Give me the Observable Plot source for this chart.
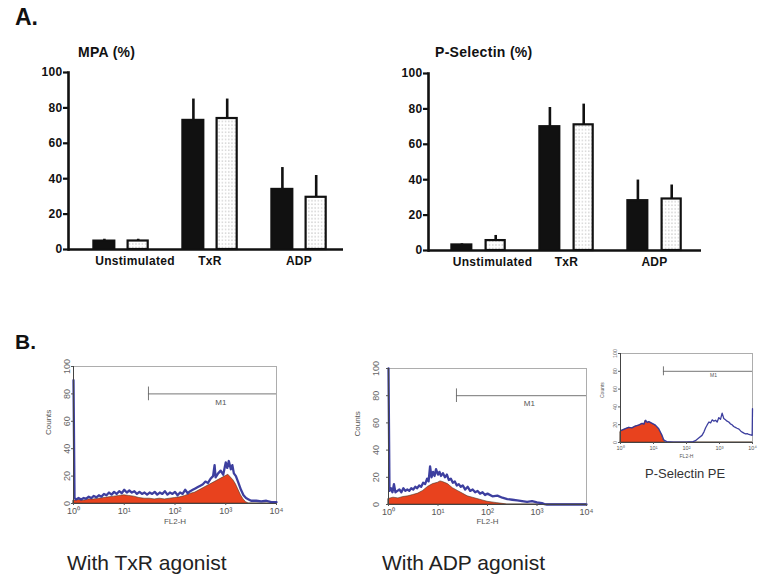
<!DOCTYPE html>
<html>
<head>
<meta charset="utf-8">
<script src="https://cdn.jsdelivr.net/npm/d3@7"></script>
<script src="https://cdn.jsdelivr.net/npm/@observablehq/plot@0.6"></script>
<style>
  html, body { margin: 0; padding: 0; background: #fff; }
  #root { position: relative; width: 766px; height: 584px; overflow: hidden; background: #fff;
          font-family: "Liberation Sans", Arial, sans-serif; }
  .abs { position: absolute; line-height: 1; white-space: nowrap; }
  .panel { position: absolute; }
</style>
</head>
<body>
<svg width="0" height="0" style="position:absolute">
  <defs>
    <pattern id="dots" patternUnits="userSpaceOnUse" width="3.2" height="3.6">
      <rect width="3.2" height="3.6" fill="#fff"></rect>
      <circle cx="1.6" cy="1.8" r="0.5" fill="#777"></circle>
    </pattern>
  </defs>
</svg>
<div id="root">
  <div class="abs" style="left:15px;top:5.5px;font-size:23px;font-weight:bold;color:#111">A.</div>
  <div class="abs" style="left:78px;top:45px;font-size:14px;font-weight:bold;color:#111;letter-spacing:0.3px">MPA (%)</div>
  <div class="abs" style="left:435px;top:45px;font-size:14px;font-weight:bold;color:#111;letter-spacing:0.3px">P-Selectin (%)</div>
  <div class="abs" style="left:15px;top:331px;font-size:21px;font-weight:bold;color:#111">B.</div>
  <div class="abs" style="left:67px;top:552px;font-size:21px;color:#222">With TxR agonist</div>
  <div class="abs" style="left:382px;top:552px;font-size:21px;color:#222">With ADP agonist</div>
  <div class="abs" style="left:645px;top:466.5px;font-size:13px;color:#333">P-Selectin PE</div>
  <div class="panel" id="barL" style="left:0px;top:62px"></div>
  <div class="panel" id="barR" style="left:360px;top:63px"></div>
  <div class="panel" id="h1" style="left:30px;top:355px"></div>
  <div class="panel" id="h2" style="left:345px;top:357px"></div>
  <div class="panel" id="h3" style="left:596px;top:343px"></div>
</div>
<script>
// ---------- Panel A data ----------
const groups = ["Unstimulated", "TxR", "ADP"];
const mpaBlack      = [4.8, 73, 34];
const mpaBlackErr   = [1.0, 12, 12.3];
const mpaDotted     = [4.8, 74, 29.5];
const mpaDottedErr  = [1.0, 11, 12.3];
const pselBlack     = [3.2, 70, 28.2];
const pselBlackErr  = [0.6, 10.8, 11.6];
const pselDotted    = [5.6, 71, 29.1];
const pselDottedErr = [2.9, 11.7, 7.9];
const yTicksA = [0, 20, 40, 60, 80, 100];

// ---------- Panel B data (FL2-H as log10 exponent, Counts) ----------
const txrBlueExp = [0,0.02,0.05,0.1,0.15,0.2,0.25,0.3,0.35,0.4,0.45,0.5,0.55,0.6,0.65,0.7,0.75,0.8,0.85,0.9,0.95,1.0,1.05,1.1,1.15,1.2,1.25,1.3,1.35,1.4,1.45,1.5,1.55,1.6,1.65,1.7,1.75,1.8,1.85,1.9,1.95,2.0,2.05,2.1,2.15,2.2,2.25,2.3,2.35,2.4,2.45,2.5,2.55,2.6,2.65,2.7,2.75,2.78,2.8,2.85,2.9,2.95,3.0,3.03,3.06,3.1,3.13,3.16,3.2,3.25,3.3,3.35,3.4,3.45,3.5,3.6,3.7,3.8,3.9,4.0];
const txrBlueCnt = [90,4,3,4,3,4,3.5,5,4,5.5,4.5,6,5,7,6,8,6.5,8.5,7,9,7.5,10,8,9.5,8,9,7,8.5,7,8,6.5,8,7,8.5,6.5,8,7,9,6.5,8,7,8.5,6,8,7,10,7.5,9,10,11,12,13,14,16,15,18,20,28,19,22,24,21,30,26,31,25,28,22,20,15,10,6,4,3,2,2,1.5,2,1,1];
const txrRedExp = [0,0.1,0.2,0.3,0.4,0.5,0.6,0.7,0.8,0.9,1.0,1.1,1.2,1.3,1.4,1.5,1.6,1.7,1.8,1.9,2.0,2.1,2.2,2.3,2.4,2.5,2.6,2.7,2.8,2.9,3.0,3.05,3.1,3.15,3.2,3.25,3.3,3.35,3.4,3.45,4.0];
const txrRedCnt = [2,2.5,2,3,3,3.5,4,4.5,5,5.5,6,5.5,5,4,3.5,3.5,3,3.5,3,3.5,4,4.5,5.5,7,8,10,12,14,16,18,20,21,19,17,14,10,6,3,1,0,0];

const adpBlueExp = [0,0.02,0.05,0.08,0.11,0.14,0.18,0.22,0.26,0.3,0.34,0.38,0.42,0.46,0.5,0.54,0.58,0.62,0.66,0.7,0.74,0.78,0.81,0.84,0.87,0.9,0.93,0.96,1.0,1.03,1.06,1.1,1.14,1.18,1.22,1.26,1.3,1.34,1.38,1.42,1.46,1.5,1.55,1.6,1.65,1.7,1.75,1.8,1.85,1.9,1.95,2.0,2.1,2.2,2.3,2.4,2.5,2.6,2.7,2.8,2.9,3.0,3.1,3.15,3.2,4.0];
const adpBlueCnt = [100,10,12,9,15,9,10,11,9,12,10,11,10,12,11,13,12,14,13,16,15,19,17,28,20,24,21,26,22,24,21,23,20,22,18,19,16,17,14,15,13,14,11,13,10,11,9,10,8,9,7,8,6,6.5,5,4,3.5,3,2.5,2,2.5,1.5,1,0.3,0,0];
const adpRedExp = [0,0.1,0.2,0.3,0.4,0.5,0.6,0.7,0.8,0.9,1.0,1.05,1.1,1.2,1.3,1.4,1.5,1.6,1.7,1.8,1.9,2.0,2.1,2.2,2.3,2.4,4.0];
const adpRedCnt = [4,5,4.5,5.5,6,7,8,10,13,15,16,17,16.5,15,12,10,8,6,5,4,3,2,1.5,1,0.5,0,0];

const peBlueExp = [0,0.05,0.15,0.25,0.35,0.45,0.55,0.66,0.71,0.76,0.81,0.86,0.96,1.06,1.16,1.22,1.26,1.31,1.4,1.6,1.8,2.0,2.1,2.2,2.27,2.37,2.47,2.53,2.58,2.63,2.68,2.73,2.78,2.83,2.88,2.93,2.98,3.03,3.08,3.13,3.18,3.23,3.28,3.33,3.38,3.43,3.48,3.53,3.59,3.64,3.69,3.74,3.79,3.84,3.89,3.94,3.99,4.0];
const peBlueCnt = [13,14,15.5,17,16.5,18.5,19.5,21.5,20.5,25,22.5,23.5,21.5,19.5,15.5,11,8,3,1,0.5,0.3,0.5,0.8,1,2,5,8,12,16.5,20,23,22,25.5,24,25,23,28,26,33,27,25.5,24,23,21,20,18,17,16,15,13,11.6,10.5,9.7,10,9,8.5,8,38];
const peRedExp = [0,0.05,0.15,0.25,0.35,0.45,0.55,0.66,0.71,0.76,0.81,0.86,0.96,1.06,1.16,1.22,1.26,1.31,1.36,4.0];
const peRedCnt = [12,13.5,15,16.5,16,18,19,21,20,24.7,22,23,21,19,15,11,8,2,0,0];

const m1Start = [30, 23.6, 20];     // FL2-H where the M1 gate starts
const m1End = 10000;
const m1Level = 80;                 // Counts level of the M1 bar
const m1LabelAt = [800, 700, 660];
const xTickVals = [1, 10, 100, 1000, 10000];
const xTickText = ["10\u2070", "10\u00b9", "10\u00b2", "10\u00b3", "10\u2074"];
const yTicksB = [0, 20, 40, 60, 80, 100];

const FONT = '"Liberation Sans", Arial, sans-serif';

// ---------- Panel A ----------
function barChart(black, blackErr, dotted, dottedErr, opt) {
  const data = groups.map((g, i) => ({group: g, a: black[i], ae: blackErr[i], b: dotted[i], be: dottedErr[i]}));
  return Plot.plot({
    width: opt.width, height: 212,
    marginLeft: 68, marginTop: 10, marginBottom: 25, marginRight: 5,
    x: {type: "band", domain: groups, paddingInner: 0, paddingOuter: opt.po, align: opt.align},
    y: {domain: [0, 100]},
    style: {background: "none", fontFamily: FONT, fontSize: "12px", fontWeight: "bold", color: "#111", overflow: "visible", letterSpacing: "0.3px"},
    marks: [
      Plot.ruleX(data, {x: "group", y1: "a", y2: d => d.a + d.ae, dx: -16.6, strokeWidth: 2.6, stroke: "#111"}),
      Plot.ruleX(data, {x: "group", y1: "b", y2: d => d.b + d.be, dx: 17.2, strokeWidth: 2.6, stroke: "#111"}),
      Plot.barY(data, {x: "group", y: "a", fill: "#111", stroke: "#111", strokeWidth: 2, insetLeft: 17.3, insetRight: 50.6}),
      Plot.barY(data, {x: "group", y: "b", fill: "url(#dots)", stroke: "#111", strokeWidth: 2.2, insetLeft: 51.6, insetRight: 17.3}),
      Plot.frame({anchor: "left", strokeWidth: 2.6, stroke: "#111"}),
      Plot.ruleY([0], {strokeWidth: 2.6, stroke: "#111"}),
      Plot.axisY({ticks: yTicksA, tickSize: 5, tickPadding: 1, strokeWidth: 2.2, label: null, fontSize: 12}),
      Plot.axisX(["Unstimulated"], {tickSize: 0, tickPadding: 7, dx: 14, label: null}),
      Plot.axisX(["TxR", "ADP"], {tickSize: 0, tickPadding: 7, label: null})
    ]
  });
}
document.getElementById("barL").append(barChart(mpaBlack, mpaBlackErr, mpaDotted, mpaDottedErr, {width: 348, po: 0.042, align: 1}));
document.getElementById("barR").append(barChart(pselBlack, pselBlackErr, pselDotted, pselDottedErr, {width: 346, po: 0.034, align: 0.7}));

// ---------- Panel B ----------
function zip(exps, cnts) {
  return exps.map((e, i) => ({x: Math.pow(10, e), y: cnts[i]}));
}
function histogram(cfg) {
  const blue = zip(cfg.blueExp, cfg.blueCnt);
  const red = zip(cfg.redExp, cfg.redCnt);
  const m1 = [{start: cfg.m1Start, end: m1End, y: m1Level, lx: cfg.m1Label}];
  return Plot.plot({
    width: cfg.w, height: cfg.h,
    marginLeft: cfg.ml, marginTop: cfg.mt, marginRight: cfg.mr, marginBottom: cfg.mb,
    x: {type: "log", domain: [1, 10000]},
    y: {domain: [0, 100]},
    style: {background: "none", fontFamily: FONT, fontSize: cfg.fs + "px", color: "#555", overflow: "visible"},
    marks: [
      Plot.frame({stroke: "#9a9a9a", strokeWidth: 0.8}),
      Plot.areaY(red, {x: "x", y: "y", fill: "#e8421e", stroke: "#4b3526", strokeWidth: 0.6}),
      Plot.lineY(blue, {x: "x", y: "y", stroke: "#33359a", strokeWidth: cfg.lw, strokeOpacity: 0.95}),
      Plot.frame({anchor: "left", stroke: "#444", strokeWidth: 1}),
      Plot.frame({anchor: "bottom", stroke: "#444", strokeWidth: 1}),
      Plot.axisY({ticks: yTicksB, tickRotate: -90, tickSize: 2, tickPadding: cfg.yPad, label: null, fill: "#666", fontSize: cfg.tfs}),
      Plot.axisX({ticks: xTickVals, tickFormat: d => xTickText[xTickVals.indexOf(d)], tickSize: 2, tickPadding: cfg.xPad, label: null, fill: "#555", fontSize: cfg.tfs}),
      Plot.ruleY(m1, {x1: "start", x2: "end", y: "y", stroke: "#666", strokeWidth: 0.9}),
      Plot.ruleX(m1, {x: "start", y1: d => d.y - 5, y2: d => d.y + 5, stroke: "#666", strokeWidth: 0.9}),
      Plot.text(m1, {x: "lx", y: "y", text: () => "M1", dy: cfg.m1dy, fill: "#555"}),
      Plot.text(["Counts"], {frameAnchor: "left", dx: cfg.countsDx, rotate: -90, text: d => d, fill: "#555"}),
      Plot.text(["FL2-H"], {frameAnchor: "bottom", dy: cfg.flDy, text: d => d, fill: "#555"})
    ]
  });
}
document.getElementById("h1").append(histogram({
  blueExp: txrBlueExp, blueCnt: txrBlueCnt, redExp: txrRedExp, redCnt: txrRedCnt,
  m1Start: m1Start[0], m1Label: m1LabelAt[0],
  w: 258, h: 178, ml: 43, mt: 11, mr: 12, mb: 30, fs: 8, tfs: 9, lw: 2.3,
  yPad: 2, xPad: 2, m1dy: 9, countsDx: -25, flDy: 20
}));
document.getElementById("h2").append(histogram({
  blueExp: adpBlueExp, blueCnt: adpBlueCnt, redExp: adpRedExp, redCnt: adpRedCnt,
  m1Start: m1Start[1], m1Label: m1LabelAt[1],
  w: 253, h: 177, ml: 43, mt: 11, mr: 12, mb: 30, fs: 8, tfs: 9, lw: 2.3,
  yPad: 8, xPad: 2, m1dy: 8, countsDx: -31, flDy: 19
}));
document.getElementById("h3").append(histogram({
  blueExp: peBlueExp, blueCnt: peBlueCnt, redExp: peRedExp, redCnt: peRedCnt,
  m1Start: m1Start[2], m1Label: m1LabelAt[2],
  w: 166, h: 121, ml: 24, mt: 10, mr: 10, mb: 22, fs: 5, tfs: 5.5, lw: 1.3,
  yPad: 1.5, xPad: 1.5, m1dy: 4, countsDx: -18, flDy: 15
}));
</script>
</body>
</html>
